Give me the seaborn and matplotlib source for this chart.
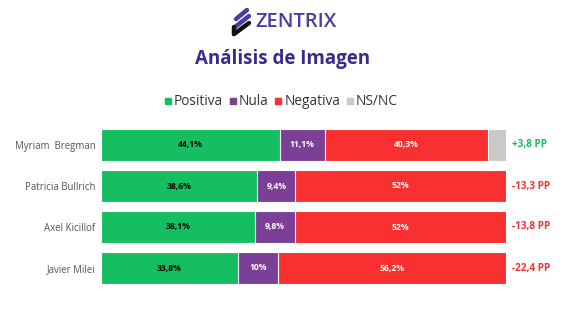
import numpy as np
import pandas as pd
import matplotlib
matplotlib.use("Agg")
import matplotlib.pyplot as plt
from matplotlib.lines import Line2D
import seaborn as sns

candidates = ["Myriam  Bregman", "Patricia Bullrich", "Axel Kicillof", "Javier Milei"]
positiva = [44.1, 38.6, 38.1, 33.8]
nula = [11.1, 9.4, 9.8, 10.0]
negativa = [40.3, 52.0, 52.0, 56.2]
nsnc = [4.5, 0.0, 0.0, 0.0]
balance = ["+3,8 PP", "-13,3 PP", "-13,8 PP", "-22,4 PP"]

GREEN = "#16BE62"
PURPLE = "#7B3F98"
RED = "#F8302F"
GREY = "#C9C9C9"
TITLE = "#3B2A8E"

sns.set_theme(style="white")
plt.rcParams["font.family"] = ["Open Sans", "DejaVu Sans"]

df = pd.DataFrame({"cand": candidates, "pos": positiva, "nul": nula,
                   "neg": negativa, "ns": nsnc})
df["c1"] = df["pos"]
df["c2"] = df["c1"] + df["nul"]
df["c3"] = df["c2"] + df["neg"]
df["c4"] = df["c3"] + df["ns"]

fig = plt.figure(figsize=(5.67, 3.18), dpi=100)
ax = fig.add_axes([101 / 567, 1 - 288.5 / 318, 405 / 567, 164 / 318])

# stacked bars: draw cumulative totals back to front
for col, color in [("c4", GREY), ("c3", RED), ("c2", PURPLE), ("c1", GREEN)]:
    sns.barplot(data=df, y="cand", x=col, color=color, orient="y", width=0.8,
                edgecolor="white", linewidth=0.8, ax=ax, saturation=1)

ax.set_xlim(0, 100)
ax.set_ylim(3.5, -0.5)
ax.set_xlabel("")
ax.set_ylabel("")
ax.set_xticks([])
sns.despine(ax=ax, left=True, bottom=True)
ax.tick_params(axis="y", length=0, pad=4, labelsize=6.9, labelcolor="#555555")


def fmt(v):
    return f"{v:g}".replace(".", ",") + "%"


for i in range(len(candidates)):
    segs = [(0, positiva[i], "black"), (df["c1"][i], nula[i], "white"),
            (df["c2"][i], negativa[i], "white")]
    for start, w, tc in segs:
        ax.text(start + w / 2, i, fmt(w), ha="center", va="center",
                fontsize=6.2, fontweight="bold", color=tc)
    bc = GREEN if balance[i].startswith("+") else RED
    ax.text(101.6, i, balance[i], ha="left", va="center", fontsize=7.2,
            fontweight="bold", color=bc, clip_on=False)

# legend
handles = [Line2D([], [], marker="s", ls="", color=c, markersize=4.8)
           for c in [GREEN, PURPLE, RED, GREY]]
fig.legend(handles, ["Positiva", "Nula", "Negativa", "NS/NC"], loc="center",
           bbox_to_anchor=(281 / 567, 1 - 102 / 318), ncol=4, frameon=False,
           fontsize=9.8, handlelength=0.5, handletextpad=0.2, columnspacing=0.45,
           labelcolor="#333333")

# title and logo
fig.text(283 / 567, 1 - 59 / 318, "Análisis de Imagen", ha="center", va="center",
         fontsize=13.5, fontweight="bold", color=TITLE)
fig.text(255 / 567, 1 - 22 / 318, "ZENTRIX", ha="left", va="center",
         fontsize=14.5, fontweight="semibold", color="#4B3C9E")


def px(x, y):
    return (x / 567, 1 - y / 318)


for (x0, y0, x1, y1), c in [((236, 19, 247, 10), "#4B3C9E"),
                            ((235, 27, 249, 16), "#4B3C9E"),
                            ((234, 34, 249, 23), "#111111"),
                            ((234, 27, 234, 34), "#111111")]:
    a, b = px(x0, y0), px(x1, y1)
    fig.add_artist(Line2D([a[0], b[0]], [a[1], b[1]], color=c, lw=3.2,
                          solid_capstyle="round", transform=fig.transFigure))

fig.savefig("out.png", dpi=100)
